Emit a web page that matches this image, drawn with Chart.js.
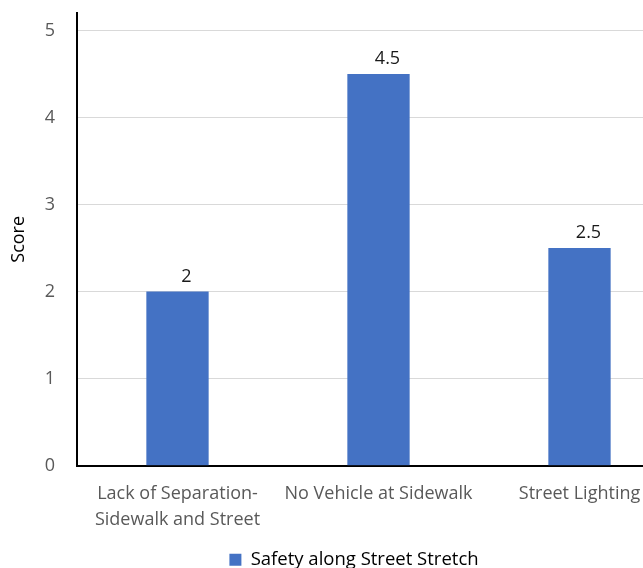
<!DOCTYPE html>
<html>
<head>
<meta charset="utf-8">
<script src="https://cdn.jsdelivr.net/npm/chart.js@4.4.1/dist/chart.umd.min.js"></script>
<style>
  html, body { margin: 0; padding: 0; background: #fff; overflow: hidden; }
  #wrap { position: relative; width: 730px; height: 579px; }
</style>
</head>
<body>
<div id="wrap"><canvas id="scoreChart"></canvas></div>
<script>
// score per safety aspect
const categories = [["Lack of Separation-", "Sidewalk and Street"], "No Vehicle at Sidewalk", "Street Lighting"];
const scores = [2, 4.5, 2.5];
const seriesName = "Safety along Street Stretch";
const yTicks = [0, 1, 2, 3, 4, 5];

const FONT = "'Open Sans', 'Noto Sans', sans-serif";

// value labels above each bar
const barValues = {
  id: 'barValues',
  afterDatasetsDraw(chart) {
    const ctx = chart.ctx;
    const meta = chart.getDatasetMeta(0);
    ctx.save();
    ctx.font = "18px " + FONT;
    ctx.fillStyle = '#1a1a1a';
    ctx.textAlign = 'center';
    ctx.textBaseline = 'bottom';
    meta.data.forEach((bar, i) => {
      ctx.fillText(String(scores[i]), bar.x + 9, bar.y - 6);
    });
    ctx.restore();
  }
};

// push the legend a bit to the right
const legendShift = {
  id: 'legendShift',
  afterLayout(chart) {
    if (chart.legend) chart.legend.left += 20;
  }
};

const ctx = document.getElementById('scoreChart').getContext('2d');
new Chart(ctx, {
  type: 'bar',
  data: {
    labels: categories,
    datasets: [{
      label: seriesName,
      data: scores,
      backgroundColor: '#4472C4',
      borderWidth: 0,
      categoryPercentage: 1,
      barPercentage: 0.31
    }]
  },
  options: {
    responsive: true,
    maintainAspectRatio: false,
    animation: false,
    layout: { padding: { top: 13, left: 8, right: 50, bottom: 0 } },
    plugins: {
      tooltip: { enabled: false },
      legend: {
        position: 'bottom',
        labels: {
          boxWidth: 12,
          boxHeight: 12,
          padding: 3,
          color: '#000',
          font: { family: FONT, size: 18.5 }
        }
      }
    },
    scales: {
      x: {
        grid: { display: false, drawTicks: false },
        border: { color: '#000', width: 2 },
        ticks: {
          color: '#595959',
          padding: 15,
          maxRotation: 0,
          autoSkip: false,
          font: { family: FONT, size: 18, lineHeight: 1.44 }
        }
      },
      y: {
        min: 0,
        max: 5.2,
        afterBuildTicks(scale) {
          scale.ticks = yTicks.map(v => ({ value: v }));
        },
        afterFit(scale) {
          scale.width = 69;
          scale.paddingTop = 0;
          scale.paddingBottom = 0;
        },
        grid: { color: '#d9d9d9', drawTicks: false },
        border: { color: '#000', width: 2 },
        ticks: {
          color: '#595959',
          padding: 22,
          font: { family: FONT, size: 18 }
        },
        title: {
          display: true,
          text: 'Score',
          color: '#000',
          padding: 0,
          font: { family: FONT, size: 18 }
        }
      }
    }
  },
  plugins: [barValues, legendShift]
});
</script>
</body>
</html>
